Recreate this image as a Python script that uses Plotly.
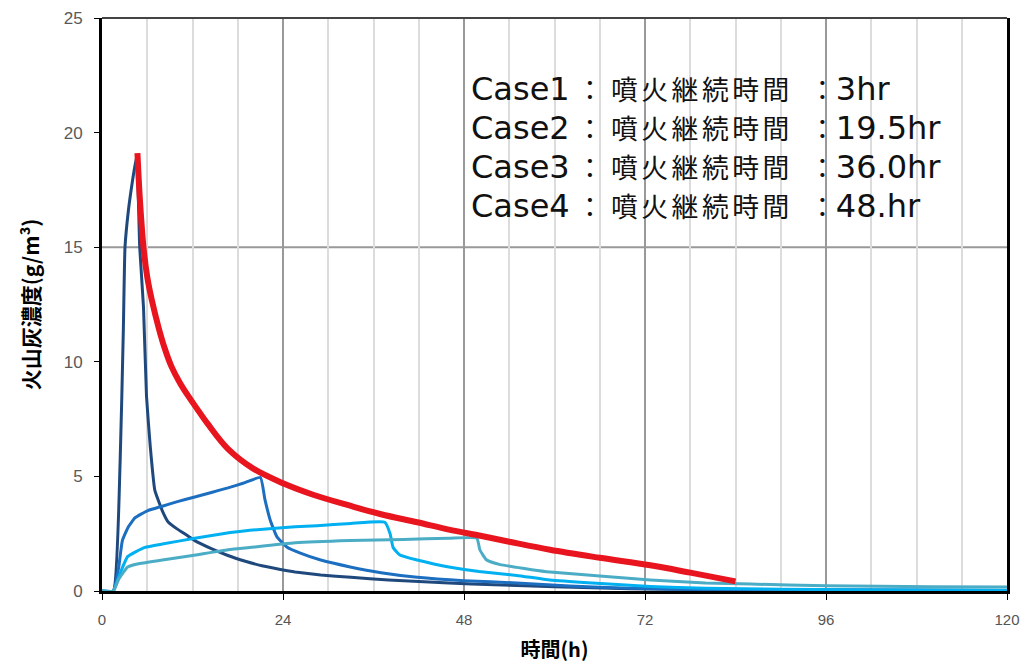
import plotly.graph_objects as go

# ---- data ----
case1_t = [0, 1.5, 2.4, 2.83, 3.05, 3.5, 4.0, 4.6, 5.0, 5.5, 5.9, 6.4, 7.0, 8.0, 8.8, 10.0, 11.4,
           12.3, 14.5, 16.7, 19.0, 21.2, 23.5, 25.6, 29.0, 33.0, 38.0, 46.0, 52.0, 60.0, 70.0,
           80.0, 95.0, 120.0]
case1_v = [0, 0, 5.6, 11.4, 15.0, 16.6, 17.8, 19.0, 15.0, 12.4, 8.5, 6.3, 4.4, 3.5, 3.0, 2.7, 2.4,
           2.2, 1.85, 1.55, 1.3, 1.1, 0.95, 0.83, 0.7, 0.6, 0.48, 0.35, 0.27, 0.18, 0.1,
           0.06, 0.04, 0.02]

case2_t = [0, 1.5, 2.2, 2.7, 3.5, 4.4, 6.0, 8.0, 10.0, 12.3, 14.5, 16.7, 18.7, 21.0, 21.6,
           22.3, 23.2, 24.5, 26.3, 29.0, 32.9, 37.0, 41.8, 48.0, 55.0, 62.0, 70.0, 80.0, 95.0, 120.0]
case2_v = [0, 0, 1.0, 2.2, 2.8, 3.2, 3.5, 3.7, 3.9, 4.1, 4.3, 4.5, 4.7, 4.95, 4.0,
           3.1, 2.36, 1.92, 1.65, 1.35, 1.05, 0.8, 0.6, 0.45, 0.35, 0.22, 0.12, 0.07, 0.04, 0.02]

case3_t = [0, 1.5, 2.2, 3.4, 5.7, 8.0, 12.3, 16.0, 19.6, 25.6, 28.5, 33.0, 37.5, 38.2, 38.6,
           39.5, 41.8, 44.0, 46.0, 50.0, 55.0, 59.4, 65.0, 72.7, 80.0, 90.0, 100.0, 120.0]
case3_v = [0, 0, 0.6, 1.5, 1.9, 2.05, 2.3, 2.5, 2.65, 2.8, 2.85, 2.95, 3.0, 2.5, 1.9,
           1.57, 1.35, 1.18, 1.05, 0.85, 0.68, 0.48, 0.35, 0.2, 0.12, 0.08, 0.05, 0.03]

case4_t = [0, 1.5, 2.2, 3.4, 5.0, 8.0, 12.0, 16.7, 19.6, 25.6, 32.9, 40.0, 46.0, 49.7, 50.1,
           51.0, 52.8, 55.0, 57.0, 59.4, 66.0, 72.7, 80.0, 86.0, 96.0, 110.0, 120.0]
case4_v = [0, 0, 0.5, 1.05, 1.2, 1.35, 1.55, 1.8, 1.9, 2.1, 2.2, 2.25, 2.3, 2.3, 1.8,
           1.35, 1.15, 1.03, 0.93, 0.83, 0.65, 0.48, 0.35, 0.3, 0.23, 0.18, 0.17]

env_t = [4.7, 5.0, 5.5, 6.0, 6.6, 7.5, 8.3, 9.2, 10.3, 11.45, 12.5, 14.0, 16.7, 20.0, 24.0,
         28.0, 32.9, 37.0, 41.8, 46.0, 50.0, 54.0, 59.4, 66.0, 72.7, 78.0, 84.0]
env_v = [19.1, 17.2, 15.0, 13.7, 12.7, 11.5, 10.6, 9.8, 9.1, 8.5, 8.0, 7.3, 6.2, 5.35, 4.7,
         4.2, 3.72, 3.35, 3.0, 2.68, 2.42, 2.15, 1.8, 1.45, 1.12, 0.8, 0.42]

case_labels = ["Case1", "Case2", "Case3", "Case4"]
case_durations = ["3hr", "19.5hr", "36.0hr", "48.hr"]
duration_word = "噴火継続時間"

x_ticks = [0, 24, 48, 72, 96, 120]
y_ticks = [0, 5, 10, 15, 20, 25]

# ---- figure ----
fig = go.Figure()
series = [
    (case1_t, case1_v, "#1F497D", 3, 0.4),
    (case2_t, case2_v, "#1C6EC0", 3, 0.4),
    (case3_t, case3_v, "#00B0F0", 3, 0.4),
    (case4_t, case4_v, "#4BACC6", 3, 0.4),
    (env_t, env_v, "#E8141E", 6, 1.0),
]
for t, v, c, w, sm in series:
    fig.add_trace(go.Scatter(x=t, y=v, mode="lines",
                             line=dict(color=c, width=w, shape="spline", smoothing=sm),
                             showlegend=False, hoverinfo="skip"))

W, H = 1029, 663
ML, MR, MT, MB = 102, 22, 18, 72
PW, PH = W - ML - MR, H - MT - MB


def px_x(px):
    return (px - ML) / PW


def px_y(py):
    return (H - MB - py) / PH


fig.update_layout(
    width=W, height=H,
    margin=dict(l=ML, r=MR, t=MT, b=MB, autoexpand=False),
    plot_bgcolor="white", paper_bgcolor="white",
    showlegend=False,
    xaxis=dict(
        range=[0, 120], tickvals=x_ticks, ticktext=[str(v) for v in x_ticks],
        showgrid=True, gridcolor="#999999", gridwidth=2,
        minor=dict(dtick=6, tick0=0, showgrid=True, gridcolor="#DCDCDC", gridwidth=2, ticks=""),
        showline=True, linecolor="black", linewidth=3,
        ticks="outside", ticklen=6, tickcolor="black", tickwidth=1,
        ticklabelstandoff=7,
        tickfont=dict(family="Liberation Sans Narrow, Liberation Sans, sans-serif", size=15, color="#555555"),
        title=dict(text="<b>時間(h)</b>", font=dict(family="Noto Sans CJK JP", size=20, color="black"), standoff=17),
        zeroline=False, automargin=False,
    ),
    yaxis=dict(
        range=[0, 25], tickvals=y_ticks,
        showgrid=False, zeroline=False,
        showline=True, linecolor="black", linewidth=3, mirror=True,
        ticks="outside", ticklen=5, tickcolor="black", tickwidth=1,
        ticklabelstandoff=8,
        tickfont=dict(family="Liberation Sans, sans-serif", size=17, color="#595959"),
        title=dict(text="<b>火山灰濃度(g/m³)</b>", font=dict(family="Noto Sans CJK JP", size=21, color="black"), standoff=19),
        automargin=False,
    ),
)

# horizontal grid line at 15, top border, legend background box
fig.add_shape(type="line", xref="paper", yref="y", x0=0, x1=1, y0=15, y1=15,
              line=dict(color="#999999", width=2), layer="below")
fig.add_shape(type="line", xref="paper", yref="paper", x0=0, x1=1, y0=1, y1=1,
              line=dict(color="#444444", width=2), layer="above")
fig.add_shape(type="rect", xref="paper", yref="paper", x0=px_x(455), x1=px_x(1005),
              y0=px_y(238), y1=px_y(50),
              fillcolor="white", line=dict(width=0), layer="between")

CJK_SIZE = 26.8


def latin(s, size=32):
    return f"<span style=\"font-family:'DejaVu Sans';font-size:{size}px\">{s}</span>"


def cjk(s):
    return f"<span style=\"font-family:'Noto Sans CJK JP';font-size:{CJK_SIZE}px\">{s}</span>"


def gap(size, n=1):
    return latin("\u00a0" * n, size)


spaced_word = gap(11).join(cjk(ch) for ch in duration_word)

lines = []
for lab, dur in zip(case_labels, case_durations):
    lines.append(latin(lab) + gap(21.7) + cjk("：") + gap(24) + spaced_word
                 + gap(31, 2) + cjk("：") + latin(dur))
legend_text = "<br>".join(lines)

fig.add_annotation(text=legend_text, xref="paper", yref="paper", x=px_x(470), y=px_y(68),
                   xanchor="left", yanchor="top", align="left", showarrow=False, borderpad=0,
                   font=dict(family="DejaVu Sans", size=30, color="#111111"))

fig.write_html("out.html", post_script="document.body.style.margin='0';",
               config={"displayModeBar": False})
